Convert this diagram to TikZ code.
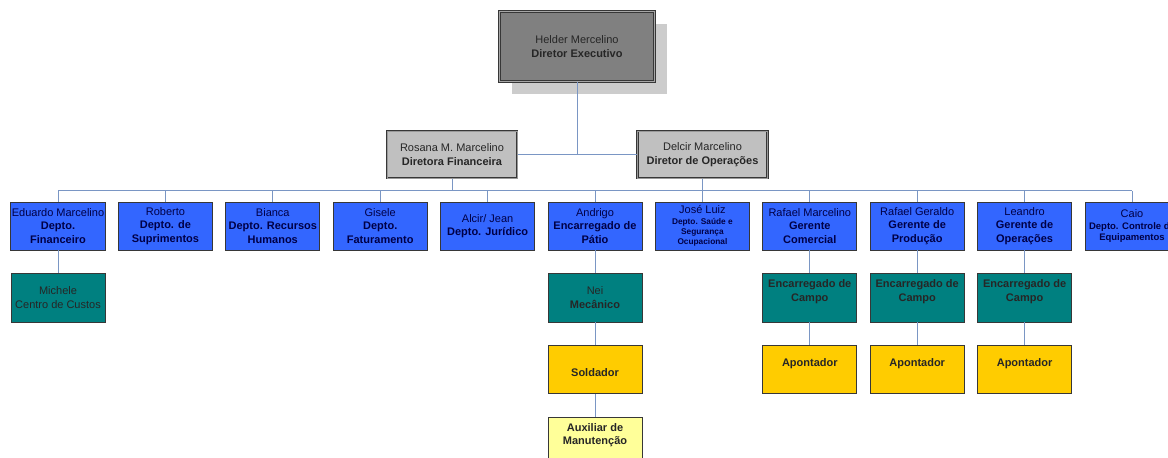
\documentclass[tikz,border=0pt]{standalone}
\usepackage{fontspec}
\setmainfont{Liberation Sans}
\usepackage{tikz}
\usetikzlibrary{shadows}
\definecolor{linkblue}{RGB}{122, 150, 196}
\definecolor{edgegray}{RGB}{55, 55, 55}
\definecolor{execgray}{RGB}{128, 128, 128}
\definecolor{dirgray}{RGB}{192, 192, 192}
\definecolor{shadowgray}{RGB}{204, 204, 204}
\definecolor{deptblue}{RGB}{51, 102, 255}
\definecolor{navytext}{RGB}{0, 0, 70}
\definecolor{teamteal}{RGB}{0, 128, 128}
\definecolor{fieldyellow}{RGB}{255, 204, 0}
\definecolor{helperyellow}{RGB}{255, 255, 153}
\newcommand{\tinybold}[1]{{\fontsize{8.3}{10}\selectfont\bfseries #1}}
\newcommand{\smallbold}[1]{{\fontsize{9.5}{11.5}\selectfont\bfseries #1}}
\tikzstyle{box} = [rectangle, draw=edgegray, line width=0.8pt, align=center, minimum width=94pt, minimum height=48pt, inner sep=1pt, font=\fontsize{11}{13.5}\selectfont]
\tikzstyle{execbox} = [box, fill=execgray, text=black!85, minimum width=155pt, minimum height=70pt, draw=edgegray, line width=1pt, double=gray!70, double distance=0.8pt, drop shadow={shadow xshift=12pt, shadow yshift=-12pt, fill=shadowgray, opacity=1}]
\tikzstyle{dirbox} = [box, fill=dirgray, text=black!85, minimum width=130pt, minimum height=47pt, line width=1pt, double=gray!80, double distance=0.8pt]
\tikzstyle{deptbox} = [box, fill=deptblue, text=navytext]
\tikzstyle{teambox} = [box, fill=teamteal, text=black!85, minimum height=49pt]
\tikzstyle{fieldbox} = [box, fill=fieldyellow, text=black!85]
\tikzstyle{helperbox} = [box, fill=helperyellow, text=black!85]
\tikzstyle{link} = [draw=linkblue, line width=0.8pt]

\begin{document}
\begin{tikzpicture}[x=1pt, y=-1pt]
    \useasboundingbox (0,0) rectangle (1168,458);
    \clip (0,0) rectangle (1168,458);

    % Diretoria
    \node[execbox] (helder) at (577,46.5) {Helder Mercelino\\\textbf{Diretor Executivo}};
    \node[dirbox] (rosana) at (452,154.5) {Rosana M. Marcelino\\\textbf{Diretora Financeira}};
    \node[dirbox] (delcir) at (702.5,154.5) {Delcir Marcelino\\\textbf{Diretor de Operações}};
    \coordinate (bus) at (0,190.5);

    % Departamentos
    \node[deptbox] (eduardo) at (58,226) {Eduardo Marcelino\\\textbf{Depto.}\\\textbf{Financeiro}};
    \node[deptbox] (roberto) at (165.4,226) {Roberto\\\textbf{Depto. de}\\\textbf{Suprimentos}};
    \node[deptbox] (bianca) at (272.8,226) {Bianca\\\textbf{Depto. Recursos}\\\textbf{Humanos}};
    \node[deptbox] (gisele) at (380.2,226) {Gisele\\\textbf{Depto.}\\\textbf{Faturamento}};
    \node[deptbox] (alcir) at (487.6,226) {Alcir/ Jean\\\textbf{Depto. Jurídico}};
    \node[deptbox] (andrigo) at (595,226) {Andrigo\\\textbf{Encarregado de}\\\textbf{Pátio}};
    \node[deptbox] (jose) at (702.4,226) {José Luiz\\[-2pt]\tinybold{Depto. Saúde e}\\[-3.5pt]\tinybold{Segurança}\\[-3.5pt]\tinybold{Ocupacional}};
    \node[deptbox] (rafaelm) at (809.8,226) {Rafael Marcelino\\\textbf{Gerente}\\\textbf{Comercial}};
    \node[deptbox] (rafaelg) at (917.2,226) {Rafael Geraldo\\\textbf{Gerente de}\\\textbf{Produção}};
    \node[deptbox] (leandro) at (1024.6,226) {Leandro\\\textbf{Gerente de}\\\textbf{Operações}};
    \node[deptbox] (caio) at (1132,226) {Caio\\[-2pt]\smallbold{Depto. Controle de}\\[-2pt]\smallbold{Equipamentos}};

    % Equipes
    \node[teambox] (michele) at (58,297.5) {Michele\\Centro de Custos};
    \node[teambox] (nei) at (595,297.5) {Nei\\\textbf{Mecânico}};
    \node[teambox] (campom) at (809.8,297.5) {\textbf{Encarregado de}\\\textbf{Campo}\\\mbox{}};
    \node[teambox] (campog) at (917.2,297.5) {\textbf{Encarregado de}\\\textbf{Campo}\\\mbox{}};
    \node[teambox] (campol) at (1024.6,297.5) {\textbf{Encarregado de}\\\textbf{Campo}\\\mbox{}};
    \node[fieldbox] (soldador) at (595,369.5) {\mbox{}\\\textbf{Soldador}};
    \node[fieldbox] (apontm) at (809.8,369) {\textbf{Apontador}\\\mbox{}};
    \node[fieldbox] (apontg) at (917.2,369) {\textbf{Apontador}\\\mbox{}};
    \node[fieldbox] (apontl) at (1024.6,369) {\textbf{Apontador}\\\mbox{}};
    \node[helperbox] (auxiliar) at (595,441) {\textbf{Auxiliar de}\\\textbf{Manutenção}\\\mbox{}};

    % Ligacoes
    \draw[link] (helder.south) -- (helder.south |- rosana.east);
    \draw[link] (rosana.east) -- (delcir.west);
    \draw[link] (rosana.south) -- (rosana.south |- bus);
    \draw[link] (delcir.south) -- (delcir.south |- bus);
    \draw[link] (eduardo.north |- bus) -- (caio.north |- bus);
    \foreach \d in {eduardo, roberto, bianca, gisele, alcir, andrigo, jose, rafaelm, rafaelg, leandro, caio}
        \draw[link] (\d.north) -- (\d.north |- bus);
    \draw[link] (eduardo) -- (michele);
    \draw[link] (andrigo) -- (nei);
    \draw[link] (nei) -- (soldador);
    \draw[link] (soldador) -- (auxiliar);
    \draw[link] (rafaelm) -- (campom);
    \draw[link] (campom) -- (apontm);
    \draw[link] (rafaelg) -- (campog);
    \draw[link] (campog) -- (apontg);
    \draw[link] (leandro) -- (campol);
    \draw[link] (campol) -- (apontl);
\end{tikzpicture}
\end{document}
